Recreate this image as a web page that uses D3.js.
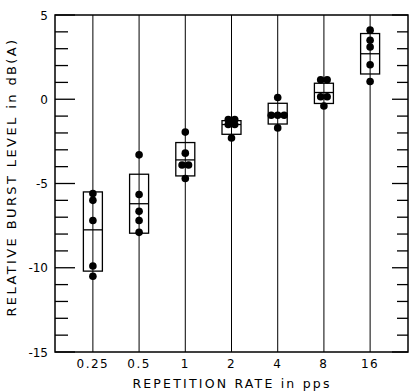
<!DOCTYPE html>
<html>
<head>
<meta charset="utf-8">
<script src="https://cdn.jsdelivr.net/npm/d3@7"></script>
<style>
  body { margin: 0; background: #fff; }
  text { font-family: "DejaVu Sans", sans-serif; fill: #000; }
</style>
</head>
<body>
<div id="chart"></div>
<script>
"use strict";

// repetition rates (pps), one column each
const rates = ["0.25", "0.5", "1", "2", "4", "8", "16"];

// box edges per rate, dB(A)
const boxLow = [-10.2, -7.95, -4.55, -2.08, -1.47, -0.25, 1.5];
const boxMid = [-7.75, -6.2, -3.6, -1.5, -0.85, 0.4, 2.7];
const boxHigh = [-5.5, -4.45, -2.57, -1.27, -0.24, 0.95, 3.9];

// individual subjects per rate
const subjects = [
  [-5.6, -6.0, -7.2, -9.9, -10.5],
  [-3.3, -5.65, -6.65, -7.2, -7.9],
  [-1.95, -3.2, -3.9, -3.9, -4.7],
  [-1.2, -1.2, -1.5, -1.5, -2.3],
  [0.1, -0.95, -0.95, -0.95, -1.7],
  [1.15, 1.15, 0.15, 0.15, -0.4],
  [4.1, 3.5, 3.1, 2.05, 1.05]
];

const yTicks = d3.range(-15, 6);
const yLabels = [-15, -10, -5, 0, 5];

var width = 410,
    height = 391,
    plotL = 55, plotR = 408, plotT = 15, plotB = 352;

var x = d3.scalePoint()
    .domain(rates)
    .range([plotL, plotR])
    .padding(0.82);

var y = d3.scaleLinear()
    .domain([-15, 5])
    .range([plotB, plotT]);

var boxW = 19, r = 3.8;

var svg = d3.select("#chart").append("svg")
    .attr("width", width)
    .attr("height", height);

// frame
svg.append("rect")
    .attr("x", plotL).attr("y", plotT)
    .attr("width", plotR - plotL).attr("height", plotB - plotT)
    .attr("fill", "none").attr("stroke", "#000").attr("stroke-width", 1.5);

// ticks, inward on both sides
svg.selectAll(".tl").data(yTicks).enter().append("line")
    .attr("x1", plotL).attr("x2", d => plotL + (d % 5 === 0 ? 20 : 13))
    .attr("y1", d => y(d)).attr("y2", d => y(d))
    .attr("stroke", "#000").attr("stroke-width", 1.3);

svg.selectAll(".tr").data(yTicks).enter().append("line")
    .attr("x1", plotR).attr("x2", d => plotR - (d % 5 === 0 ? 16 : 11))
    .attr("y1", d => y(d)).attr("y2", d => y(d))
    .attr("stroke", "#000").attr("stroke-width", 1.3);

svg.selectAll(".yl").data(yLabels).enter().append("text")
    .attr("x", plotL - 7).attr("y", d => y(d) + 4.5)
    .attr("text-anchor", "end")
    .style("font-size", "12px")
    .text(d => (d < 0 ? "-" + Math.abs(d) : d));

// one full-height line per rate
svg.selectAll(".vl").data(rates).enter().append("line")
    .attr("x1", d => x(d)).attr("x2", d => x(d))
    .attr("y1", plotT).attr("y2", plotB)
    .attr("stroke", "#000").attr("stroke-width", 1);

var g = svg.selectAll(".col").data(rates).enter().append("g")
    .attr("transform", d => "translate(" + x(d) + ",0)");

g.append("rect")
    .attr("x", -boxW / 2)
    .attr("y", (d, i) => y(boxHigh[i]))
    .attr("width", boxW)
    .attr("height", (d, i) => y(boxLow[i]) - y(boxHigh[i]))
    .attr("fill", "#fff").attr("stroke", "#000").attr("stroke-width", 1.3);

g.append("line")
    .attr("x1", -boxW / 2).attr("x2", boxW / 2)
    .attr("y1", (d, i) => y(boxMid[i])).attr("y2", (d, i) => y(boxMid[i]))
    .attr("stroke", "#000").attr("stroke-width", 1.3);

g.append("line")
    .attr("x1", 0).attr("x2", 0)
    .attr("y1", (d, i) => y(boxHigh[i])).attr("y2", (d, i) => y(boxLow[i]))
    .attr("stroke", "#000").attr("stroke-width", 1);

// spread equal values side by side
g.each(function(d, i) {
  var vals = subjects[i];
  var counts = d3.rollup(vals, v => v.length, v => v);
  var seen = new Map();
  var pts = vals.map(v => {
    var n = counts.get(v), k = seen.get(v) || 0;
    seen.set(v, k + 1);
    return { v: v, dx: (k - (n - 1) / 2) * (r * 1.7) };
  });
  d3.select(this).selectAll("circle").data(pts).enter().append("circle")
      .attr("cx", p => p.dx)
      .attr("cy", p => y(p.v))
      .attr("r", r)
      .attr("fill", "#000");
});

svg.selectAll(".xl").data(rates).enter().append("text")
    .attr("x", d => x(d)).attr("y", 368)
    .attr("text-anchor", "middle")
    .style("font-size", "12px")
    .style("letter-spacing", "1.5px")
    .text(d => d);

svg.append("text")
    .attr("x", 232).attr("y", 388)
    .attr("text-anchor", "middle")
    .style("font-size", "12.5px")
    .style("letter-spacing", "2.2px")
    .text("REPETITION RATE in pps");

svg.append("text")
    .attr("transform", "translate(16,177) rotate(-90)")
    .attr("text-anchor", "middle")
    .style("font-size", "13px")
    .style("letter-spacing", "2.4px")
    .text("RELATIVE BURST LEVEL in dB(A)");
</script>
</body>
</html>
